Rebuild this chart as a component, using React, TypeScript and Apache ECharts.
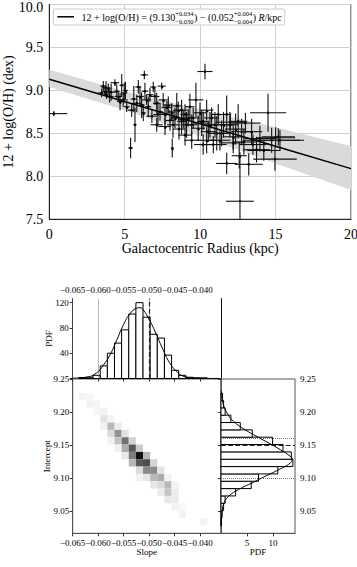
import React, { useEffect, useRef } from 'react';
import * as echarts from 'echarts';

const FONT = "'Liberation Serif', 'DejaVu Serif', serif";

// ---- Top panel: abundance gradient ----
const radius = [0.3, 3.47, 3.58, 3.69, 3.76, 3.8, 3.91, 4.0, 4.1, 4.35, 4.47, 4.57, 4.69, 4.8, 4.9, 4.97, 5.05, 5.13,
  5.39, 5.46, 5.6, 5.68, 5.8, 5.9, 6.01, 6.12, 6.23, 6.3, 6.34, 6.45, 6.56, 6.67, 6.8, 6.89, 7.0, 7.12, 7.12, 7.2, 7.34, 7.45,
  7.55, 7.67, 7.67, 7.8, 7.89, 8.0, 8.11, 8.15, 8.2, 8.33, 8.45, 8.55, 8.6, 8.77, 8.77, 8.88, 9.0, 9.0, 9.1, 9.21, 9.32, 9.44, 9.44, 9.54, 9.72, 9.87, 9.99,
  10.1, 10.2, 10.2, 10.32, 10.43, 10.43, 10.54, 10.65, 10.76, 10.87, 10.98, 11.1, 11.2, 11.31, 11.42, 11.55, 11.76, 11.76, 11.97, 12.0, 12.19, 12.19, 12.35, 12.52, 12.59, 12.64, 12.75, 12.9,
  13.0, 13.22, 13.41, 13.5, 13.74, 13.96, 14.22, 14.5, 14.74, 14.96, 15.0, 15.18, 15.29];
const oh = [8.73, 8.97, 9.05, 8.99, 9.03, 8.95, 9.02, 8.93, 8.98, 9.09, 8.99, 8.93, 8.87, 9.06, 8.89, 8.97, 9.0, 8.81,
  8.33, 8.77, 8.9, 8.6, 8.85, 9.04, 8.93, 8.83, 8.74, 9.18, 8.99, 8.89, 8.81, 8.95, 8.7, 9.04, 8.93, 8.85, 8.6, 8.72, 8.75, 9.05,
  8.89, 8.72, 8.58, 8.8, 8.83, 8.65, 8.75, 8.33, 8.6, 8.68, 8.82, 8.77, 8.55, 8.64, 8.77, 8.66, 8.72, 8.48, 8.6, 8.68, 8.81, 8.6, 8.42, 8.68, 8.89, 8.56, 8.74,
  8.62, 8.64, 8.37, 9.22, 8.77, 8.42, 8.52, 8.6, 8.68, 8.37, 8.6, 8.5, 8.72, 8.42, 8.5, 8.6, 8.72, 8.15, 8.6, 8.63, 8.46, 8.39, 8.55, 8.64, 8.24, 7.71, 8.52, 8.4,
  8.62, 8.14, 8.52, 8.37, 8.31, 8.44, 8.3, 8.74, 8.42, 8.2, 8.45, 8.46, 8.42];
const radiusErr = [0.9, 0.25, 0.2, 0.25, 0.3, 0.2, 0.15, 0.25, 0.3, 0.28, 0.2, 0.25, 0.2, 0.15, 0.3, 0.2, 0.15, 0.2,
  0.15, 0.25, 0.2, 0.1, 0.3, 0.2, 0.25, 0.2, 0.15, 0.25, 0.2, 0.3, 0.2, 0.25, 0.35, 0.2, 0.3, 0.25, 0.4, 0.3, 0.2, 0.27,
  0.3, 0.25, 0.4, 0.35, 0.3, 0.3, 0.25, 0.1, 0.4, 0.3, 0.3, 0.35, 0.4, 0.3, 0.4, 0.35, 0.3, 0.45, 0.4, 0.35, 0.3, 0.4, 0.5, 0.4, 0.5, 0.45, 0.4,
  0.5, 0.4, 0.6, 0.5, 0.45, 0.6, 0.5, 0.55, 0.5, 0.88, 0.55, 0.6, 0.5, 0.7, 0.6, 0.65, 0.3, 0.7, 0.6, 1.0, 0.7, 0.8, 0.7, 0.6, 0.5, 0.92, 0.7, 0.8,
  1.0, 0.93, 0.7, 0.9, 0.9, 1.0, 1.1, 1.2, 1.9, 1.44, 1.3, 1.1, 1.6];
const ohErr = [0.03, 0.05, 0.06, 0.05, 0.08, 0.05, 0.06, 0.07, 0.1, 0.04, 0.08, 0.06, 0.1, 0.13, 0.08, 0.12, 0.1, 0.06,
  0.12, 0.08, 0.15, 0.2, 0.1, 0.08, 0.12, 0.15, 0.1, 0.05, 0.1, 0.06, 0.12, 0.08, 0.08, 0.06, 0.1, 0.12, 0.08, 0.15, 0.1, 0.04,
  0.08, 0.12, 0.1, 0.08, 0.1, 0.12, 0.1, 0.11, 0.15, 0.12, 0.15, 0.1, 0.12, 0.15, 0.12, 0.1, 0.12, 0.12, 0.15, 0.1, 0.15, 0.12, 0.1, 0.12, 0.2, 0.15, 0.12,
  0.15, 0.1, 0.12, 0.09, 0.12, 0.15, 0.12, 0.15, 0.12, 0.1, 0.15, 0.2, 0.12, 0.12, 0.15, 0.15, 0.22, 0.125, 0.15, 0.1, 0.15, 0.12, 0.18, 0.2, 0.15, 0.57, 0.15, 0.15,
  0.12, 0.13, 0.15, 0.12, 0.15, 0.15, 0.12, 0.22, 0.145, 0.136, 0.12, 0.1, 0.12];

const fitR = [0, 20];
const fitOH = [9.13, 8.09];
const bandR = [0, 5, 10, 15, 20];
const bandUpper = [9.24, 8.99, 8.78, 8.57, 8.35];
const bandLower = [9.04, 8.77, 8.47, 8.15, 7.84];

// ---- Bottom panels: posterior ----
const slopeTicks = [-0.065, -0.06, -0.055, -0.05, -0.045, -0.04];
const interceptTicks = [9.05, 9.1, 9.15, 9.2, 9.25];
const slopeBinStart = -0.0638;
const slopeBinWidth = 0.0014;
const slopeHist = [1.5, 2, 5, 20, 40, 56, 77, 102, 120, 97, 70, 64, 37, 13, 5, 2, 1, 1];
const slopeCurveX = [-0.065, -0.0624, -0.0603, -0.059, -0.0577, -0.0564, -0.0551, -0.0538, -0.0525, -0.0518, -0.0512, -0.0499, -0.0486, -0.0473, -0.046, -0.0447, -0.0434, -0.0414, -0.0388, -0.036];
const slopeCurveY = [0.5, 2, 9, 21, 37, 60, 84, 102, 111, 112, 109, 92, 70, 46, 25, 12, 4, 1, 0.2, 0];
const slopeDotted = [-0.0559, -0.0481];
const slopeDashed = -0.0542;

const interceptBinStart = 9.0288;
const interceptBinWidth = 0.0111;
const interceptHist = [0.1, 0.2, 0.5, 0.8, 2.8, 5.8, 7.2, 10.9, 13.8, 13.5, 11.9, 9.9, 6.0, 3.7, 1.9, 0.8, 0.5, 0.3];
const interceptCurvePdf = [0, 0.2, 0.6, 1.5, 3.4, 6.0, 8.5, 11.1, 13.3, 13.65, 13.3, 11.4, 9.2, 6.9, 4.7, 2.4, 1.2, 0.4, 0.05];
const interceptCurveVal = [9.027, 9.048, 9.063, 9.073, 9.083, 9.093, 9.103, 9.113, 9.123, 9.129, 9.133, 9.143, 9.153, 9.163, 9.173, 9.186, 9.198, 9.213, 9.233];
const interceptDotted = [9.164, 9.0998];
const interceptDashed = 9.148;

// [slope bin, intercept bin, relative density]
const densityCells = [
  [0, 17, 0.05], [1, 17, 0.04],
  [1, 16, 0.05], [2, 16, 0.04],
  [2, 15, 0.04], [3, 15, 0.05],
  [3, 14, 0.12], [4, 14, 0.05],
  [3, 13, 0.06], [4, 13, 0.3], [5, 13, 0.08],
  [4, 12, 0.15], [5, 12, 0.45], [6, 12, 0.12],
  [4, 11, 0.06], [5, 11, 0.25], [6, 11, 0.6], [7, 11, 0.18],
  [5, 10, 0.06], [6, 10, 0.35], [7, 10, 0.7], [8, 10, 0.22],
  [6, 9, 0.1], [7, 9, 0.55], [8, 9, 1.0], [9, 9, 0.3],
  [7, 8, 0.3], [8, 8, 0.7], [9, 8, 0.75], [10, 8, 0.18],
  [8, 7, 0.15], [9, 7, 0.5], [10, 7, 0.5], [11, 7, 0.12],
  [8, 6, 0.05], [9, 6, 0.1], [10, 6, 0.3], [11, 6, 0.35], [12, 6, 0.05],
  [10, 5, 0.1], [11, 5, 0.15], [12, 5, 0.3], [13, 5, 0.05],
  [11, 4, 0.08], [12, 4, 0.25], [13, 4, 0.08],
  [12, 3, 0.1], [13, 3, 0.08],
  [13, 2, 0.05], [14, 2, 0.03],
  [14, 1, 0.05],
  [17, 0, 0.05],
];

const SLOPE_MIN = -0.065, SLOPE_MAX = -0.0359;
const INT_MIN = 9.0167, INT_MAX = 9.25;

const minus = (s: string) => s.replace('-', '\u2212');

function measure(text: string, size: number, italic = false): number {
  const c = document.createElement('canvas').getContext('2d');
  if (!c) return text.length * size * 0.5;
  c.font = `${italic ? 'italic ' : ''}${size}px "Liberation Serif"`;
  return c.measureText(text).width;
}

function buildLegend(): any[] {
  const els: any[] = [];
  const ly = 17;
  let cx = 81.5;
  const put = (t: string, size: number, y: number, italic = false) => {
    els.push({
      type: 'text', x: cx, y, z: 101,
      style: { text: t, fontSize: size, fontFamily: FONT, fontStyle: italic ? 'italic' : 'normal', fill: '#000', verticalAlign: 'middle', align: 'left' },
    });
    return measure(t, size, italic);
  };
  cx += put('12 + log(O/H) = (9.130', 10, ly);
  let w = Math.max(put('+0.034', 6.5, ly - 3.8), put('\u22120.030', 6.5, ly + 4.2));
  cx += w + 0.5;
  cx += put(') \u2212 (0.052', 10, ly);
  w = Math.max(put('+0.004', 6.5, ly - 3.8), put('\u22120.004', 6.5, ly + 4.2));
  cx += w + 0.5;
  cx += put(') ', 10, ly);
  cx += put('R', 10, ly, true);
  cx += put('/kpc', 10, ly);
  const box = { type: 'rect', z: 100, shape: { x: 53.3, y: 9, width: cx + 3 - 53.3, height: 16, r: 2 }, style: { fill: 'rgba(255,255,255,0.9)', stroke: '#cccccc', lineWidth: 1 } };
  const sample = { type: 'line', z: 101, shape: { x1: 57.3, y1: 16.8, x2: 74, y2: 16.8 }, style: { stroke: '#000', lineWidth: 1.5 } };
  return [box, sample, ...els];
}

const label9 = { color: '#000', fontSize: 9, fontFamily: FONT };
const gridBase = { containLabel: false, outerBoundsMode: 'none' };

export default function App() {
  const ref = useRef<HTMLDivElement>(null);
  useEffect(() => {
    if (!ref.current) return;
    const chart = echarts.init(ref.current, null, { renderer: 'svg' });

    const pointData = radius.map((r, i) => [r, oh[i], radiusErr[i], ohErr[i]]);
    const bandData = bandR.map((r, i) => [r, bandLower[i], bandUpper[i]]);
    const slopeBars = slopeHist.map((h, i) => [slopeBinStart + i * slopeBinWidth, slopeBinStart + (i + 1) * slopeBinWidth, h]);
    const interceptBars = interceptHist.map((h, i) => [interceptBinStart + i * interceptBinWidth, interceptBinStart + (i + 1) * interceptBinWidth, h]);
    const cellData = densityCells.map(([c, r, v]) => [
      slopeBinStart + c * slopeBinWidth, slopeBinStart + (c + 1) * slopeBinWidth,
      interceptBinStart + r * interceptBinWidth, interceptBinStart + (r + 1) * interceptBinWidth, v,
    ]);

    const option: any = {
      animation: false,
      textStyle: { fontFamily: FONT },
      grid: [
        { ...gridBase, left: 49.3, top: 4.5, width: 301.7, height: 214.8, show: true, borderColor: '#222', borderWidth: 1, backgroundColor: 'transparent' },
        { ...gridBase, left: 72.7, top: 298.5, width: 148.3, height: 80 },
        { ...gridBase, left: 72.7, top: 379, width: 148.3, height: 154.3, show: true, borderColor: '#555', borderWidth: 1, backgroundColor: 'transparent' },
        { ...gridBase, left: 221, top: 379, width: 74, height: 154.3, show: true, borderColor: '#555', borderWidth: 1, backgroundColor: 'transparent' },
      ],
      xAxis: [
        {
          gridIndex: 0, type: 'value', min: 0, max: 20, interval: 5,
          axisLine: { show: true, lineStyle: { color: '#222' } }, axisTick: { show: false },
          axisLabel: { color: '#000', fontSize: 14, fontFamily: FONT, margin: 8 },
          splitLine: { show: true, lineStyle: { color: '#cfcfcf', width: 1 } },
          name: 'Galactocentric Radius (kpc)', nameLocation: 'middle', nameGap: 22, nameMoveOverlap: false,
          nameTextStyle: { color: '#000', fontSize: 14, fontFamily: FONT },
        },
        {
          gridIndex: 1, type: 'value', position: 'top', min: SLOPE_MIN, max: SLOPE_MAX,
          axisLine: { show: false },
          axisTick: { show: true, inside: true, length: 3, customValues: slopeTicks, lineStyle: { color: '#333' } },
          axisLabel: { ...label9, margin: 4.5, customValues: slopeTicks, formatter: (v: number) => minus(v.toFixed(3)) },
          splitLine: { show: false },
        },
        {
          gridIndex: 2, type: 'value', min: SLOPE_MIN, max: SLOPE_MAX,
          axisLine: { show: true, lineStyle: { color: '#555' } },
          axisTick: { show: true, length: 3, customValues: slopeTicks, lineStyle: { color: '#333' } },
          axisLabel: { ...label9, margin: 5, customValues: slopeTicks, formatter: (v: number) => minus(v.toFixed(3)) },
          splitLine: { show: false },
          name: 'Slope', nameLocation: 'middle', nameGap: 14, nameMoveOverlap: false, nameTextStyle: { ...label9 },
        },
        {
          gridIndex: 3, type: 'value', min: 0, max: 14.2,
          axisLine: { show: true, lineStyle: { color: '#555' } },
          axisTick: { show: true, length: 3, customValues: [5, 10], lineStyle: { color: '#333' } },
          axisLabel: { ...label9, margin: 5, customValues: [5, 10] },
          splitLine: { show: false },
          name: 'PDF', nameLocation: 'middle', nameGap: 14, nameMoveOverlap: false, nameTextStyle: { ...label9 },
        },
      ],
      yAxis: [
        {
          gridIndex: 0, type: 'value', min: 7.5, max: 10, interval: 0.5,
          axisLine: { show: true, lineStyle: { color: '#222' } }, axisTick: { show: false },
          axisLabel: {
            color: '#000', fontSize: 14, fontFamily: FONT, margin: 6,
            formatter: (v: number) => (v >= 10 ? `{t|${v.toFixed(1)}}` : v.toFixed(1)),
            rich: { t: { color: '#000', fontSize: 14, fontFamily: FONT, padding: [6, 0, 0, 0] } },
          },
          splitLine: { show: true, lineStyle: { color: '#cfcfcf', width: 1 } },
          name: '12 + log(O/H) (dex)', nameLocation: 'middle', nameRotate: 90, nameGap: 34, nameMoveOverlap: false,
          nameTextStyle: { color: '#000', fontSize: 14, fontFamily: FONT },
        },
        {
          gridIndex: 1, type: 'value', min: 0, max: 126.6,
          axisLine: { show: true, lineStyle: { color: '#444' } },
          axisTick: { show: true, length: 3, customValues: [0, 40, 80, 120], lineStyle: { color: '#333' } },
          axisLabel: { ...label9, margin: 4, customValues: [40, 80, 120] },
          splitLine: { show: false },
          name: 'PDF', nameLocation: 'middle', nameRotate: 90, nameGap: 19, nameMoveOverlap: false, nameTextStyle: { ...label9 },
        },
        {
          gridIndex: 1, type: 'value', position: 'right', min: 0, max: 126.6,
          axisLine: { show: true, lineStyle: { color: '#111' } },
          axisTick: { show: false }, axisLabel: { show: false }, splitLine: { show: false },
        },
        {
          gridIndex: 2, type: 'value', min: INT_MIN, max: INT_MAX,
          axisLine: { show: true, lineStyle: { color: '#555' } },
          axisTick: { show: true, length: 3, customValues: interceptTicks, lineStyle: { color: '#333' } },
          axisLabel: { ...label9, margin: 3.5, customValues: interceptTicks, formatter: (v: number) => v.toFixed(2) },
          splitLine: { show: false },
          name: 'Intercept', nameLocation: 'middle', nameRotate: 90, nameGap: 21.5, nameMoveOverlap: false, nameTextStyle: { ...label9 },
        },
        {
          gridIndex: 3, type: 'value', position: 'right', min: INT_MIN, max: INT_MAX,
          axisLine: { show: true, lineStyle: { color: '#555' } },
          axisTick: { show: true, inside: true, length: 3, customValues: interceptTicks, lineStyle: { color: '#333' } },
          axisLabel: { ...label9, margin: 5, customValues: interceptTicks, formatter: (v: number) => v.toFixed(2) },
          splitLine: { show: false },
        },
      ],
      series: [
        {
          type: 'custom', xAxisIndex: 0, yAxisIndex: 0, silent: true, z: 1,
          data: bandData, encode: { x: 0, y: [1, 2] },
          renderItem: (params: any, api: any) => {
            if (params.dataIndex !== 0) return null;
            const up = bandR.map((r, i) => api.coord([r, bandUpper[i]]));
            const lo = bandR.map((r, i) => api.coord([r, bandLower[i]])).reverse();
            return { type: 'polygon', shape: { points: up.concat(lo) }, style: { fill: '#dadada' } };
          },
        },
        {
          type: 'custom', xAxisIndex: 0, yAxisIndex: 0, silent: true, z: 3,
          data: pointData, encode: { x: 0, y: 1 },
          renderItem: (params: any, api: any) => {
            const cs = params.coordSys;
            const rect = { x: cs.x, y: cs.y, width: cs.width, height: cs.height };
            const x = api.value(0), y = api.value(1), xe = api.value(2), ye = api.value(3);
            const h = echarts.graphic.clipPointsByRect([api.coord([x - xe, y]), api.coord([x + xe, y])], rect);
            const v = echarts.graphic.clipPointsByRect([api.coord([x, y + ye]), api.coord([x, y - ye])], rect);
            const c = api.coord([x, y]);
            const st = { stroke: '#111', lineWidth: 1.1 };
            return {
              type: 'group',
              children: [
                { type: 'line', shape: { x1: h[0][0], y1: h[0][1], x2: h[1][0], y2: h[1][1] }, style: st },
                { type: 'line', shape: { x1: v[0][0], y1: v[0][1], x2: v[1][0], y2: v[1][1] }, style: st },
                { type: 'circle', shape: { cx: c[0], cy: c[1], r: 1.3 }, style: { fill: '#000' } },
              ],
            };
          },
        },
        {
          type: 'line', xAxisIndex: 0, yAxisIndex: 0, z: 4, silent: true,
          data: fitR.map((r, i) => [r, fitOH[i]]), symbol: 'none',
          lineStyle: { color: '#000', width: 1.5 },
        },
        // Top histogram (slope)
        {
          type: 'custom', xAxisIndex: 1, yAxisIndex: 1, silent: true, z: 2,
          data: slopeBars, encode: { x: [0, 1], y: 2 },
          renderItem: (params: any, api: any) => {
            const p0 = api.coord([api.value(0), 0]);
            const p1 = api.coord([api.value(1), api.value(2)]);
            return { type: 'rect', shape: { x: p0[0], y: p1[1], width: p1[0] - p0[0], height: p0[1] - p1[1] }, style: { fill: '#fff', stroke: '#000', lineWidth: 1 } };
          },
        },
        {
          type: 'line', xAxisIndex: 1, yAxisIndex: 1, z: 3, silent: true, smooth: true, symbol: 'none',
          data: slopeCurveX.map((s, i) => [s, slopeCurveY[i]]),
          lineStyle: { color: '#000', width: 1 },
          markLine: {
            silent: true, symbol: ['none', 'none'], label: { show: false },
            data: [
              ...slopeDotted.map((s) => ({ xAxis: s, lineStyle: { type: 'dotted', color: '#777', width: 1 } })),
              { xAxis: slopeDashed, lineStyle: { type: 'dashed', color: '#222', width: 1.2 } },
            ],
          },
        },
        // 2D density
        {
          type: 'custom', xAxisIndex: 2, yAxisIndex: 3, silent: true, z: 2,
          data: cellData, encode: { x: [0, 1], y: [2, 3] },
          renderItem: (params: any, api: any) => {
            const a = api.coord([api.value(0), api.value(3)]);
            const b = api.coord([api.value(1), api.value(2)]);
            const g = Math.round(255 - 237 * api.value(4));
            return { type: 'rect', shape: { x: a[0], y: a[1], width: b[0] - a[0], height: b[1] - a[1] }, style: { fill: `rgb(${g},${g},${g})` } };
          },
        },
        // Right histogram (intercept)
        {
          type: 'custom', xAxisIndex: 3, yAxisIndex: 4, silent: true, z: 2,
          data: interceptBars, encode: { x: 2, y: [0, 1] },
          renderItem: (params: any, api: any) => {
            const p0 = api.coord([0, api.value(0)]);
            const p1 = api.coord([api.value(2), api.value(1)]);
            return { type: 'rect', shape: { x: p0[0], y: p1[1], width: p1[0] - p0[0], height: p0[1] - p1[1] }, style: { fill: '#fff', stroke: '#000', lineWidth: 1 } };
          },
        },
        {
          type: 'line', xAxisIndex: 3, yAxisIndex: 4, z: 3, silent: true, smooth: true, symbol: 'none',
          data: interceptCurvePdf.map((p, i) => [p, interceptCurveVal[i]]),
          lineStyle: { color: '#000', width: 1 },
          markLine: {
            silent: true, symbol: ['none', 'none'], label: { show: false },
            data: [
              ...interceptDotted.map((v) => ({ yAxis: v, lineStyle: { type: 'dotted', color: '#777', width: 1 } })),
              { yAxis: interceptDashed, lineStyle: { type: 'dashed', color: '#222', width: 1.2 } },
            ],
          },
        },
      ],
      graphic: { elements: buildLegend() },
    };
    chart.setOption(option);
    return () => chart.dispose();
  }, []);

  return <div ref={ref} style={{ position: 'absolute', left: 0, top: 0, width: 357, height: 567 }} />;
}
